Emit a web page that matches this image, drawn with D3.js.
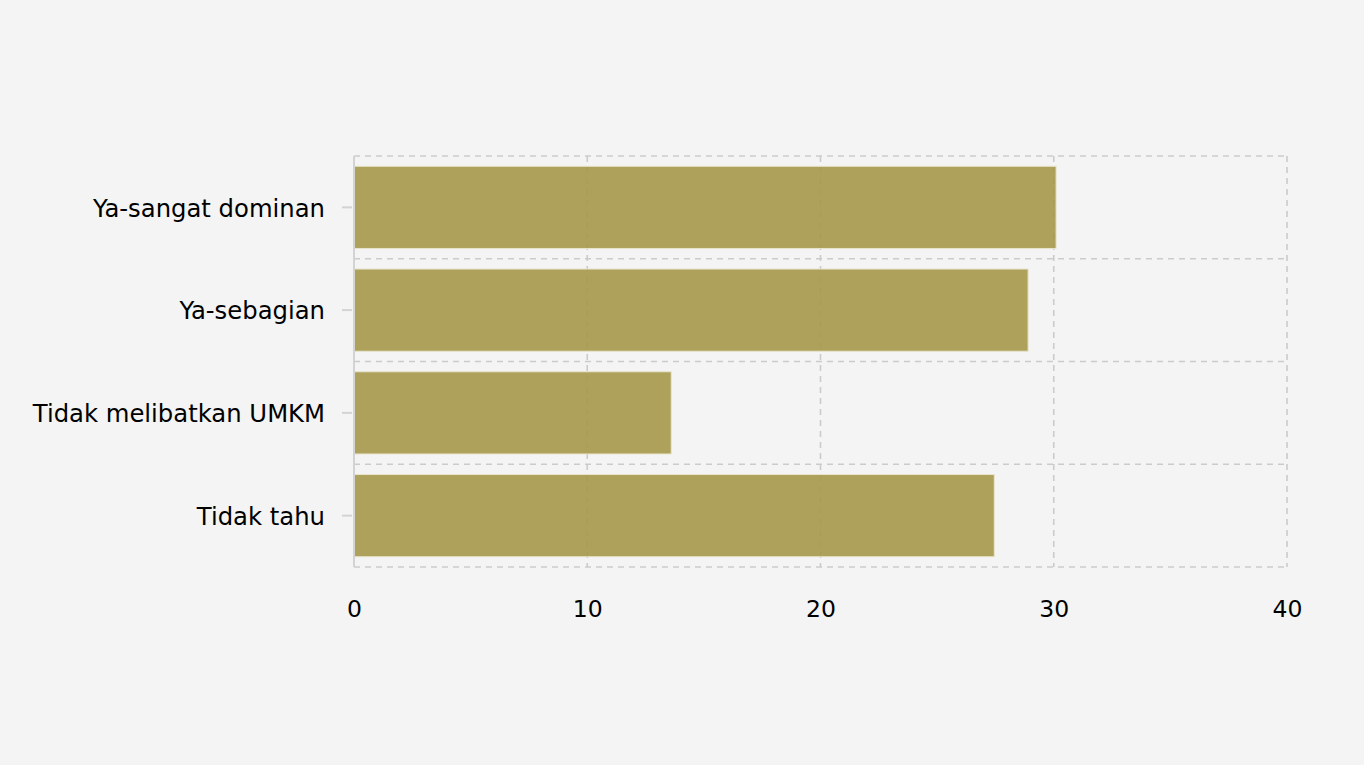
<!DOCTYPE html>
<html><head><meta charset="utf-8">
<script src="https://cdn.jsdelivr.net/npm/d3@7"></script>
<style>
html,body{margin:0;padding:0;background:#f4f4f4;}
svg{display:block;}
</style></head>
<body>
<svg id="chart" width="1364" height="765"></svg>
<script>
const categories = ["Ya-sangat dominan", "Ya-sebagian", "Tidak melibatkan UMKM", "Tidak tahu"];
const values = [30.1, 28.9, 13.6, 27.45];
const xTicks = [0, 10, 20, 30, 40];

const svg = d3.select("#chart");
const W = 1364, H = 765;
const m = {left: 354, right: 1287, top: 156, bottom: 567};

svg.append("rect").attr("width", W).attr("height", H).attr("fill", "#f4f4f4");

const x = d3.scaleLinear().domain([0, 40]).range([m.left, m.right]);
const y = d3.scaleBand().domain(categories).range([m.top, m.bottom]).paddingInner(0.2).paddingOuter(0.1);

const grid = svg.append("g");
grid.selectAll("line.v").data(xTicks.slice(1)).join("line")
  .attr("x1", d => x(d)).attr("x2", d => x(d))
  .attr("y1", m.top).attr("y2", m.bottom)
  .attr("stroke", "#cbcbcb").attr("stroke-width", 1.6).attr("stroke-dasharray", "6,5");
const bounds = categories.map(c => y(c) - y.step() * y.paddingInner() / 2);
bounds[0] = m.top;
bounds.push(m.bottom);
grid.selectAll("line.h").data(bounds).join("line")
  .attr("x1", m.left).attr("x2", m.right)
  .attr("y1", d => d).attr("y2", d => d)
  .attr("stroke", "#cbcbcb").attr("stroke-width", 1.6).attr("stroke-dasharray", "6,5");

svg.append("g").selectAll("rect").data(categories).join("rect")
  .attr("x", x(0))
  .attr("y", d => y(d))
  .attr("width", (d, i) => x(values[i]) - x(0))
  .attr("height", y.bandwidth())
  .attr("fill", "rgb(166,152,74)")
  .attr("fill-opacity", 0.9)
  .attr("stroke", "#e8e4cc")
  .attr("stroke-width", 1);

const font = "DejaVu Sans, Verdana, sans-serif";
const ya = svg.append("g").attr("transform", `translate(${m.left},0)`)
  .call(d3.axisLeft(y).tickSize(12).tickPadding(17));
ya.select(".domain").attr("stroke", "#d3d3d3").attr("stroke-width", 2)
  .attr("d", `M0,${m.top}V${m.bottom}`);
ya.selectAll(".tick line").attr("stroke", "#d3d3d3").attr("stroke-width", 2).attr("x2", -12).attr("x1", -2);
ya.selectAll(".tick text").attr("fill", "#000").attr("dy", "0.38em")
  .style("font-family", font).style("font-size", "24.3px");

const xa = svg.append("g").attr("transform", `translate(0,${m.bottom})`)
  .call(d3.axisBottom(x).tickValues(xTicks).tickSize(0).tickPadding(33));
xa.select(".domain").remove();
xa.selectAll(".tick text").attr("fill", "#000").style("font-family", font).style("font-size", "23.5px");
</script>
</body></html>
